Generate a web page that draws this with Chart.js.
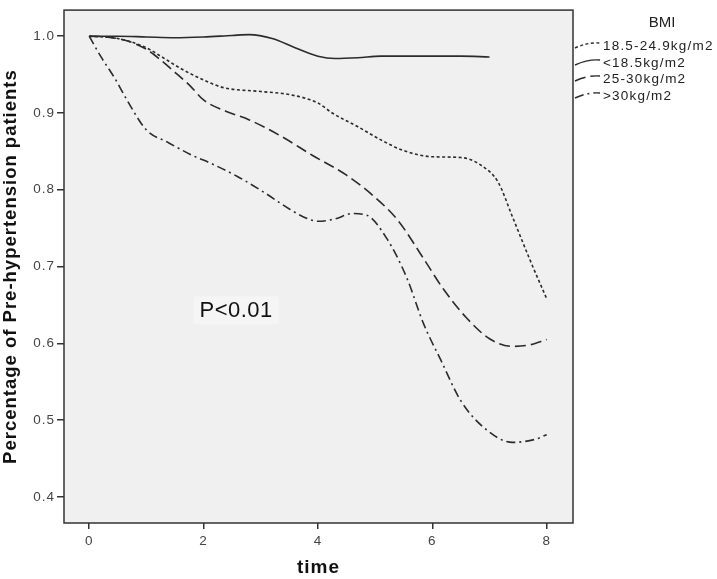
<!DOCTYPE html>
<html>
<head>
<meta charset="utf-8">
<script src="https://cdn.jsdelivr.net/npm/chart.js@4/dist/chart.umd.min.js"></script>
<style>
html,body{margin:0;padding:0;background:#fff;}
#wrap{position:relative;width:717px;height:579px;}
</style>
</head>
<body>
<div id="wrap"><canvas id="c" width="717" height="579"></canvas></div>
<script>
const seriesNames = ["18.5-24.9kg/m2", "<18.5kg/m2", "25-30kg/m2", ">30kg/m2"];
const legendTitle = "BMI";
const xTicks = [0, 2, 4, 6, 8];
const yTicks = [0.4, 0.5, 0.6, 0.7, 0.8, 0.9, 1.0];
const xTitle = "time";
const yTitle = "Percentage of Pre-hypertension patients";
const annotationText = "P<0.01";

// 18.5-24.9 (dotted)
const tNormal = [0,0.5,1,1.25,1.6,2,2.35,3,3.5,4,4.25,4.7,5.1,5.5,6,6.5,6.85,7.15,7.4,7.7,8];
const vNormal = [1.0,0.997,0.985,0.974,0.958,0.943,0.933,0.928,0.924,0.913,0.90,0.882,0.865,0.851,0.843,0.842,0.832,0.81,0.765,0.71,0.658];
// <18.5 (solid)
const tUnder = [0,0.5,1,1.5,2,2.5,2.8,3.2,3.6,4,4.3,4.7,5.1,5.5,6,6.5,7];
const vUnder = [1.0,1.0,0.999,0.998,0.999,1.001,1.002,0.997,0.985,0.974,0.971,0.972,0.974,0.974,0.974,0.974,0.973];
// 25-30 (long dash)
const tOver = [0,0.3,0.66,1,1.25,1.5,1.77,2,2.4,2.8,3.35,3.9,4.5,5,5.4,5.85,6.2,6.6,7,7.4,7.7,8];
const vOver = [1.0,0.999,0.994,0.983,0.969,0.953,0.935,0.917,0.902,0.891,0.87,0.845,0.819,0.79,0.76,0.71,0.67,0.633,0.606,0.596,0.598,0.605];
// >30 (dash-dot)
const tObese = [0,0.2,0.45,0.66,1.0,1.37,1.77,2.17,2.6,3.05,3.5,3.8,4.0,4.3,4.6,4.85,5.2,5.55,5.85,6.15,6.5,6.97,7.4,7.8,8];
const vObese = [1.0,0.974,0.945,0.917,0.878,0.862,0.846,0.833,0.817,0.797,0.775,0.763,0.759,0.762,0.769,0.767,0.737,0.686,0.625,0.578,0.525,0.486,0.471,0.475,0.481];

function pts(t, v){ return t.map((x,i)=>({x:x, y:v[i]})); }

const lineColor = '#2b2b2b';
const dashes = [[3,2.5], [], [11,5], [9,4,2,4]];

const datasets = [
  {label: seriesNames[0], data: pts(tNormal, vNormal)},
  {label: seriesNames[1], data: pts(tUnder, vUnder)},
  {label: seriesNames[2], data: pts(tOver, vOver)},
  {label: seriesNames[3], data: pts(tObese, vObese)}
].map((d,i)=>Object.assign(d,{
  borderColor: lineColor, borderWidth: 1.6, borderDash: dashes[i],
  pointRadius: 0, tension: 0.4, fill: false, cubicInterpolationMode: 'monotone'
}));

const FONT = "'Liberation Sans', Arial, sans-serif";

const decor = {
  id: 'decor',
  beforeDraw(chart){
    if ('letterSpacing' in chart.ctx) chart.ctx.letterSpacing = '1px';
  },
  beforeDatasetsDraw(chart){
    const {ctx, chartArea:a} = chart;
    ctx.save();
    ctx.fillStyle = '#f0f0f0';
    ctx.fillRect(a.left, a.top, a.right-a.left, a.bottom-a.top);
    ctx.restore();
  },
  afterDraw(chart){
    const {ctx, chartArea:a} = chart;
    ctx.save();
    // frame
    ctx.strokeStyle = '#333';
    ctx.lineWidth = 1.5;
    ctx.strokeRect(a.left, a.top, a.right-a.left, a.bottom-a.top);
    // annotation box
    const xs = chart.scales.x, ys = chart.scales.y;
    const cx = xs.getPixelForValue(2.57), cy = ys.getPixelForValue(0.643);
    if ('letterSpacing' in ctx) ctx.letterSpacing = '0.5px';
    ctx.font = "22px " + FONT;
    ctx.textAlign = 'center'; ctx.textBaseline = 'middle';
    const w = 85, h = 28;
    ctx.fillStyle = '#f5f5f5';
    ctx.fillRect(cx-w/2, cy-h/2, w, h);
    ctx.fillStyle = '#111';
    ctx.fillText(annotationText, cx, cy+1);
    // legend
    if ('letterSpacing' in ctx) ctx.letterSpacing = '0px';
    ctx.fillStyle = '#222';
    ctx.font = "15px " + FONT;
    ctx.textAlign = 'center';
    ctx.fillText(legendTitle, 662, 23);
    ctx.font = "13.5px " + FONT;
    ctx.textAlign = 'left';
    if ('letterSpacing' in ctx) ctx.letterSpacing = '1.2px';
    const ly = [46, 63, 79, 96];
    for (let i=0;i<4;i++){
      const y = ly[i];
      ctx.strokeStyle = lineColor;
      ctx.lineWidth = 1.4;
      ctx.setLineDash(dashes[i]);
      ctx.beginPath();
      ctx.moveTo(575, y+2);
      ctx.quadraticCurveTo(588, y-4, 600, y-3);
      ctx.stroke();
      ctx.setLineDash([]);
      ctx.fillStyle = '#222';
      ctx.fillText(seriesNames[i], 603, y);
    }
    ctx.restore();
  }
};

new Chart(document.getElementById('c'), {
  type: 'line',
  data: {datasets},
  plugins: [decor],
  options: {
    responsive: false,
    animation: false,
    layout: {padding: {top: 7, right: 144, left: 0, bottom: 0}},
    plugins: {legend: {display: false}, tooltip: {enabled: false}},
    scales: {
      x: {
        type: 'linear', min: -0.44, max: 8.46,
        afterBuildTicks(s){ s.ticks = xTicks.map(v=>({value:v})); },
        afterFit(s){ s.height = 56; },
        grid: {drawOnChartArea: false, tickLength: 6, color: '#333', lineWidth: 1.5},
        border: {display: false},
        ticks: {color: '#444', font: {family: FONT, size: 13.5}, padding: 4, maxRotation: 0, callback: v=>String(v)},
        title: {display: true, text: xTitle, color: '#111', font: {family: FONT, size: 19, weight: 'bold'}, padding: {top: 3, bottom: 0}}
      },
      y: {
        type: 'linear', min: 0.366, max: 1.034,
        afterBuildTicks(s){ s.ticks = yTicks.map(v=>({value:v})); },
        afterFit(s){ s.width = 64; },
        grid: {drawOnChartArea: false, tickLength: 7, color: '#333', lineWidth: 1.5},
        border: {display: false},
        ticks: {color: '#444', font: {family: FONT, size: 13.5}, padding: 2, callback: v=>Number(v).toFixed(1)},
        title: {display: true, text: yTitle, color: '#111', font: {family: FONT, size: 18.5, weight: 'bold'}, padding: {top: 0, bottom: 0}}
      }
    }
  }
});
</script>
</body>
</html>
